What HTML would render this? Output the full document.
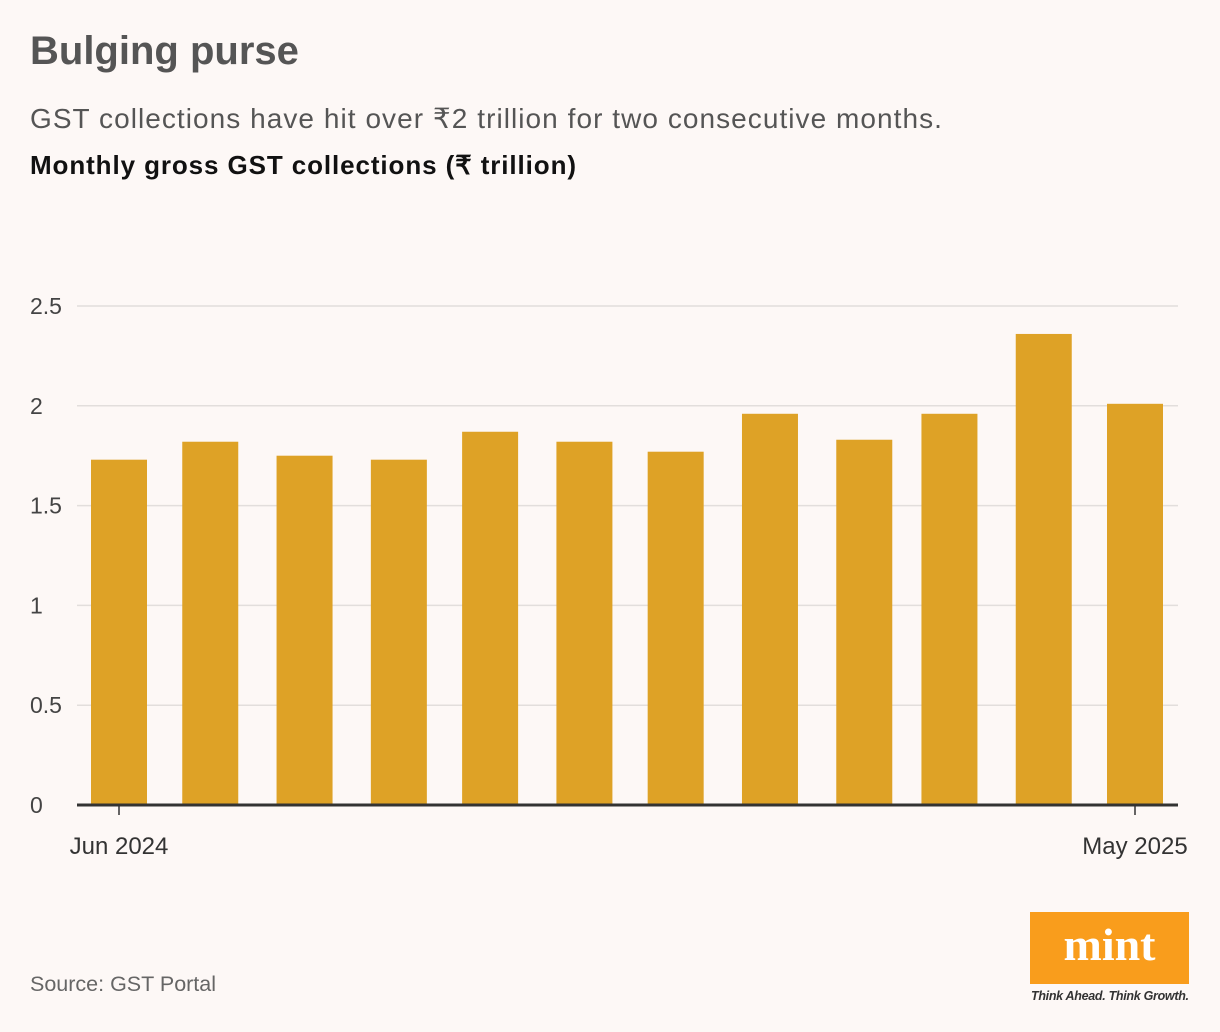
<!DOCTYPE html>
<html><head><meta charset="utf-8"><style>
body{margin:0;width:1220px;height:1032px;background:#fdf8f6;font-family:"Liberation Sans",sans-serif;position:relative;overflow:hidden}
.t{position:absolute;white-space:nowrap}
</style></head><body>
<div class="t" style="left:30px;top:29px;font-size:40px;font-weight:bold;color:#555;letter-spacing:0px">Bulging purse</div>
<div class="t" style="left:30px;top:102px;font-size:28px;color:#555;letter-spacing:1.05px">GST collections have hit over ₹2 trillion for two consecutive months.</div>
<div class="t" style="left:30px;top:150px;font-size:26px;font-weight:bold;color:#111;letter-spacing:0.9px">Monthly gross GST collections (₹ trillion)</div>
<svg id="chart" width="1220" height="1032" style="position:absolute;left:0;top:0"></svg>
<div class="t" style="left:30px;top:972px;font-size:21.5px;color:#666">Source: GST Portal</div>
<div style="position:absolute;left:1030px;top:912px;width:159px;height:72px;background:#f99d1c;color:#fff;font-family:'Liberation Serif',serif;font-weight:bold;font-size:46px;text-align:center;line-height:66px">mint</div>
<div class="t" style="left:1031px;top:989px;font-size:12.5px;font-style:italic;font-weight:bold;color:#333;letter-spacing:-0.3px">Think Ahead. Think Growth.</div>
<script>
const months=["2024-06-01","2024-07-01","2024-08-01","2024-09-01","2024-10-01","2024-11-01","2024-12-01","2025-01-01","2025-02-01","2025-03-01","2025-04-01","2025-05-01"];
const values=[1.73,1.82,1.75,1.73,1.87,1.82,1.77,1.96,1.83,1.96,2.36,2.01];
const yTicks=[0,0.5,1,1.5,2,2.5];
const yTickLabels=["0","0.5","1","1.5","2","2.5"];
const xLabels=["Jun 2024","May 2025"];
const svg=document.getElementById('chart');
const NS='http://www.w3.org/2000/svg';
const t0=Date.parse(months[0]),t1=Date.parse(months[months.length-1]);
const x=d=>119+(Date.parse(d)-t0)/(t1-t0)*(1135-119);
const y=v=>805-v*(805-306)/2.5;
function mk(tag,attrs){const e=document.createElementNS(NS,tag);for(const k in attrs)e.setAttribute(k,attrs[k]);svg.appendChild(e);return e;}
yTicks.forEach((v,i)=>{
 if(v>0){const g=mk('line',{x1:77,x2:1178,y1:y(v),y2:y(v),stroke:'#e2dedc','stroke-width':1.5});
 
 }
 const tx=mk('text',{x:30,y:y(v)+8,'font-size':23,fill:'#444','font-family':'Liberation Sans, sans-serif'});
 tx.textContent=yTickLabels[i];
 
 
});
months.forEach((m,i)=>{
 const r=mk('rect',{x:x(m)-28,y:y(values[i]),width:56,height:y(0)-y(values[i]),fill:'#dea226'});
 
 
});
const ax=mk('line',{x1:77,x2:1178,y1:805,y2:805,stroke:'#333','stroke-width':3});


[months[0],months[months.length-1]].forEach((m,i)=>{
 const tk=mk('line',{x1:x(m),x2:x(m),y1:805,y2:815,stroke:'#333','stroke-width':1.5});
 
 
 const tx=mk('text',{x:x(m),y:854,'font-size':24,fill:'#333','text-anchor':'middle','font-family':'Liberation Sans, sans-serif'});
 tx.textContent=xLabels[i];
 
 
});
</script>
</body></html>
